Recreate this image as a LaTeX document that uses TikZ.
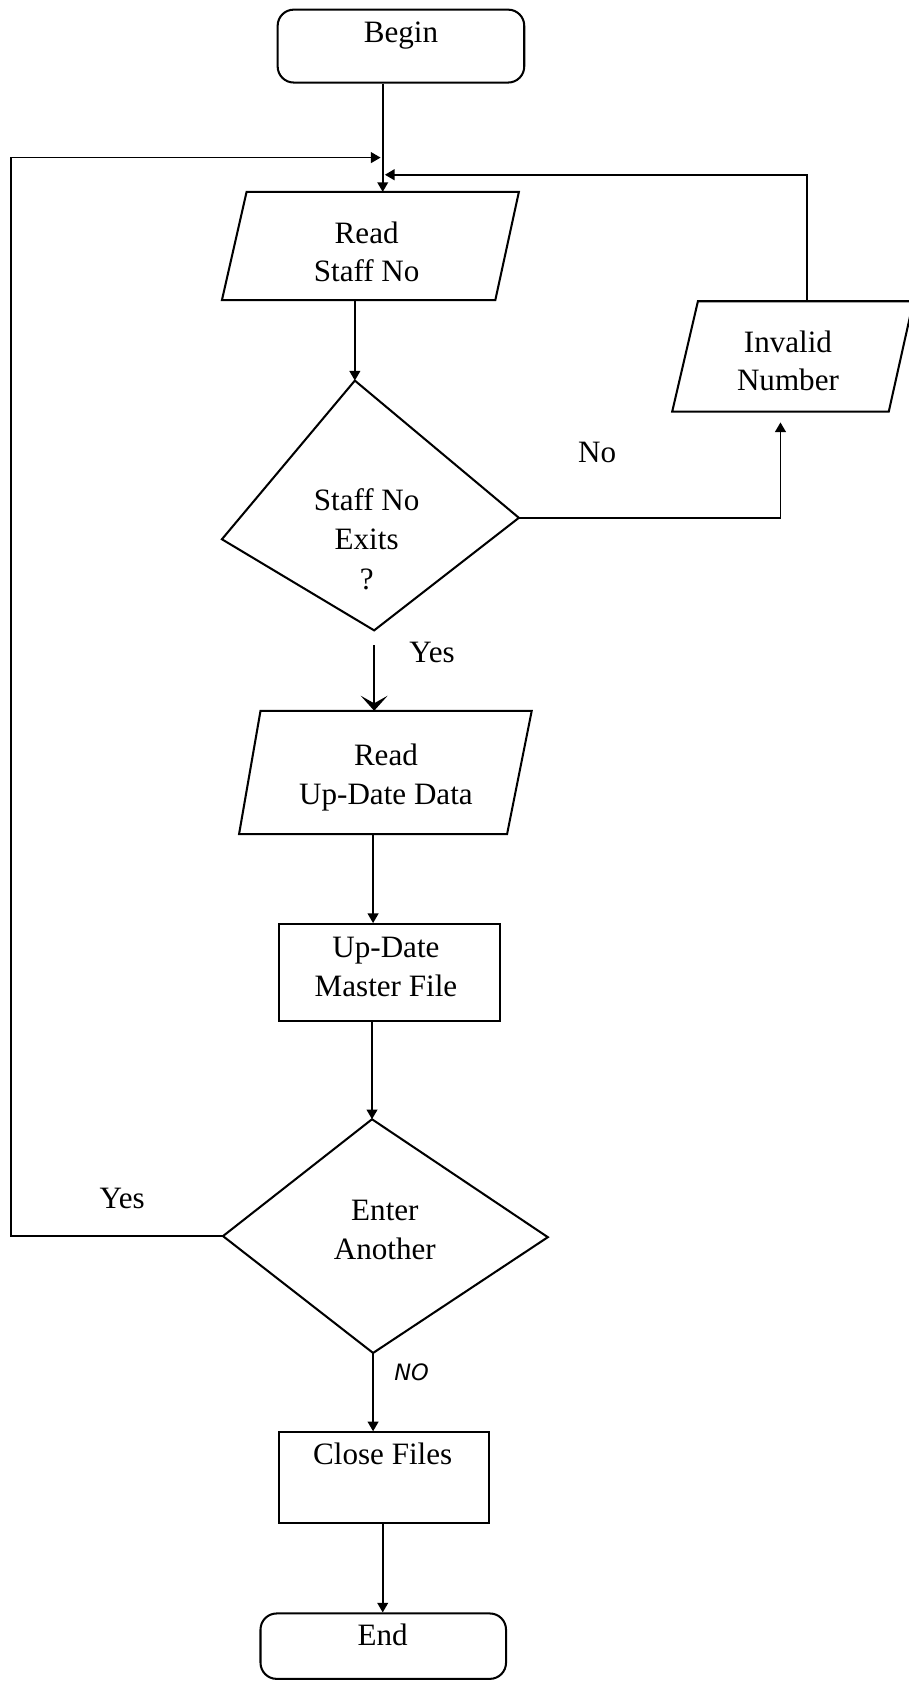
\documentclass[tikz,border=0pt]{standalone}
\usepackage{fontspec}
\setmainfont{Liberation Serif}
\newfontfamily\handfont{DejaVu Sans}
\usetikzlibrary{arrows.meta,calc}

\begin{document}
\begin{tikzpicture}[x=1pt,y=-1pt,
  outline/.style={draw, line width=1.9pt, line join=miter},
  flow/.style={draw, line width=1.6pt},
  arr/.style={flow, -{Triangle[length=9pt,width=10pt]}},
  bigarr/.style={flow, -{Stealth[length=14pt,width=25pt,inset=7pt]}},
  txt/.style={inner sep=0pt, font=\fontsize{29}{36}\selectfont, align=center},
  hand/.style={inner sep=0pt, font=\handfont\itshape\fontsize{21}{24}\selectfont}
]
\useasboundingbox (0,0) rectangle (847,1568);

% ---- terminal and process boxes
\node[outline, rounded corners=15pt, minimum width=230pt, minimum height=68pt, inner sep=0pt] (begin) at (374,43) {};
\node[txt] (begintxt) at (374,33) {Begin};

\node[outline, minimum width=206pt, minimum height=90pt, inner sep=0pt] (umf) at (363,907) {};
\node[txt] (umftxt) at (360,902) {Up-Date\\Master File};

\node[outline, minimum width=196pt, minimum height=85pt, inner sep=0pt] (close) at (358,1378.5) {};
\node[txt] (closetxt) at (357,1356) {Close Files};

\node[outline, rounded corners=15pt, minimum width=229pt, minimum height=61pt, inner sep=0pt] (end) at (357.5,1535.5) {};
\node[txt] (endtxt) at (357,1525) {End};

% ---- input/output parallelograms
\draw[outline] (230,179) -- (484,179) -- (462,280) -- (207,280) -- cycle;
\coordinate (rsn-top) at (357,179);
\coordinate (rsn-bot) at (331,280);
\node[txt] (rsntxt) at (342,235) {Read\\Staff No};

\draw[outline] (651,281) -- (852,281) -- (829,384) -- (627,384) -- cycle;
\coordinate (inv-top) at (753,281);
\coordinate (inv-bot) at (728,384);
\node[txt] (invtxt) at (735,336.5) {Invalid\\Number};

\draw[outline] (243,663) -- (496,663) -- (473,778) -- (223,778) -- cycle;
\coordinate (rud-top) at (349,663);
\coordinate (rud-bot) at (348,778);
\node[txt] (rudtxt) at (360,725) {Read\\Up-Date Data};

% ---- decisions
\coordinate (d1t) at (331,355);
\coordinate (d1r) at (484,483);
\coordinate (d1b) at (349,588);
\coordinate (d1l) at (207,503);
\draw[outline] (d1t) -- (d1r) -- (d1b) -- (d1l) -- cycle;
\node[txt, font=\fontsize{29}{37}\selectfont] (d1txt) at (342,503) {Staff No\\Exits\\?};

\coordinate (d2t) at (347,1044);
\coordinate (d2r) at (511,1154);
\coordinate (d2b) at (348,1262);
\coordinate (d2l) at (208,1153);
\draw[outline] (d2t) -- (d2r) -- (d2b) -- (d2l) -- cycle;
\node[txt] (d2txt) at (359,1147.5) {Enter\\Another};

% ---- loop-back corners
\coordinate (lb) at (10,1153);
\coordinate (lt) at (10,147);
\coordinate (lin) at (355,147);
\coordinate (rt) at (753,163);
\coordinate (rin) at (359,163);
\coordinate (nocorner) at (728,483);

% ---- connectors
\draw[arr] (rsn-top |- begin.south) -- (rsn-top);
\draw[arr] (rsn-bot) -- (rsn-bot |- d1t);
\draw[arr, shorten >=10pt] (d1r) -- (nocorner) -- (inv-bot);
\draw[arr] (inv-top) -- (rt) -- (rin);
\draw[bigarr, shorten <=14pt] (d1b) -- (rud-top);
\draw[arr] (rud-bot) -- (rud-bot |- umf.north);
\draw[arr] (d2t |- umf.south) -- (d2t);
\draw[arr] (d2l) -- (lb) -- (lt) -- (lin);
\draw[arr] (d2b) -- (d2b |- close.north);
\draw[arr] (close.south -| endtxt) -- (end.north -| endtxt);

% ---- branch labels
\node[txt] (nolbl) at (557,422) {No};
\node[txt] (yeslbl) at (403,609) {Yes};
\node[txt] (yeslbl2) at (114,1118) {Yes};
\node[hand] (nolbl2) at (384,1280) {NO};
\end{tikzpicture}
\end{document}
